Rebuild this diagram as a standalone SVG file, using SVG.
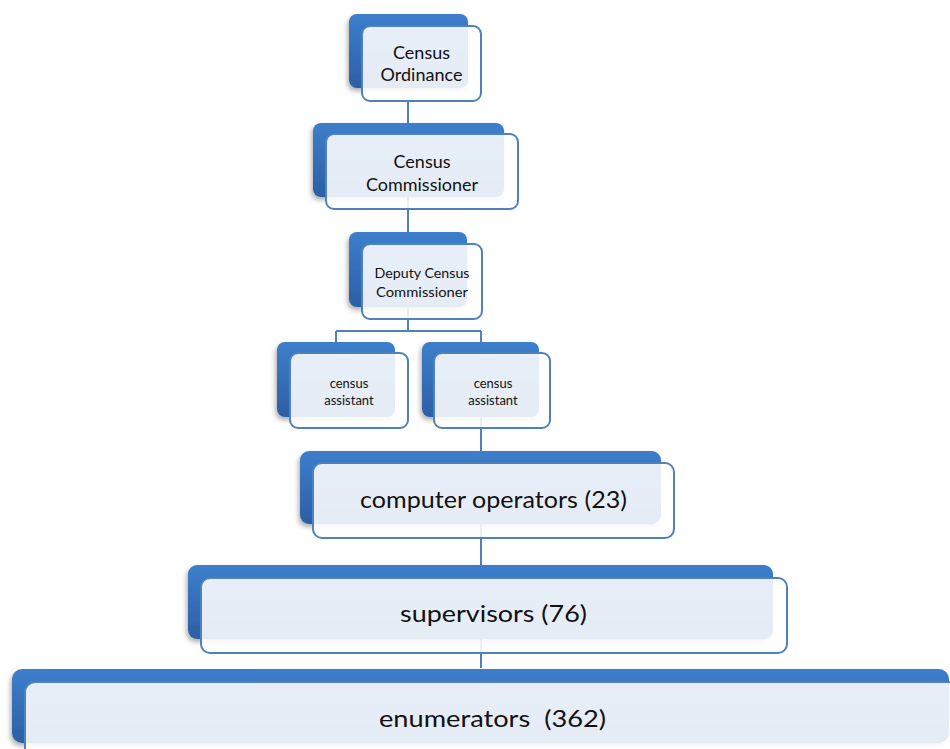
<svg xmlns="http://www.w3.org/2000/svg" width="950" height="749" viewBox="0 0 950 749">
<defs>
<linearGradient id="bg" x1="0" y1="0" x2="0" y2="1">
<stop offset="0" stop-color="#3D7ECC"/>
<stop offset="1" stop-color="#2C5FA5"/>
</linearGradient>
<filter id="sh" x="-10%" y="-20%" width="120%" height="150%">
<feDropShadow dx="-1.5" dy="3" stdDeviation="2.5" flood-color="#000" flood-opacity="0.32"/>
</filter>
</defs>
<style>
.back{fill:url(#bg);filter:url(#sh)}
.front{fill:#fff;fill-opacity:0.88;stroke:#4F81BD;stroke-width:2}
.con{fill:none;stroke:#4F81BD;stroke-width:2}
text{font-family:Lato,"Open Sans","Liberation Sans",sans-serif;fill:#111;text-anchor:middle}
</style>
<g id="connectors">
<path class="con" d="M408 101V331M336 331H481M336 331V342M481 331V668"/>
</g>
<g id="n1">
<rect class="back" x="349" y="14" width="119" height="74" rx="8"/>
<rect class="front" x="362" y="26" width="119" height="75" rx="8"/>
<text x="421.5" y="59" font-size="18">Census</text>
<text x="421.5" y="81" font-size="18">Ordinance</text>
</g>
<g id="n2">
<rect class="back" x="313" y="123" width="191" height="74" rx="8"/>
<rect class="front" x="326" y="134" width="192" height="75" rx="8"/>
<text x="422" y="168" font-size="18">Census</text>
<text x="422" y="191" font-size="18">Commissioner</text>
</g>
<g id="n3">
<rect class="back" x="349" y="232" width="118" height="75" rx="8"/>
<rect class="front" x="362" y="244" width="120" height="75" rx="8"/>
<text x="422" y="278" font-size="13.5" textLength="95" lengthAdjust="spacingAndGlyphs">Deputy Census</text>
<text x="422" y="297" font-size="13.5" textLength="92" lengthAdjust="spacingAndGlyphs">Commissioner</text>
</g>
<g id="n4">
<rect class="back" x="277" y="342" width="118" height="75" rx="8"/>
<rect class="front" x="290" y="353" width="118" height="75" rx="8"/>
<text x="349" y="388" font-size="13">census</text>
<text x="349" y="405" font-size="13">assistant</text>
</g>
<g id="n5">
<rect class="back" x="422" y="342" width="117" height="75" rx="8"/>
<rect class="front" x="434" y="353" width="116" height="75" rx="8"/>
<text x="493" y="388" font-size="13">census</text>
<text x="493" y="405" font-size="13">assistant</text>
</g>
<g id="n6">
<rect class="back" x="300" y="451" width="361" height="73" rx="9"/>
<rect class="front" x="313" y="463" width="361" height="75" rx="9"/>
<text x="493.5" y="508" font-size="23" textLength="267" lengthAdjust="spacingAndGlyphs">computer operators (23)</text>
</g>
<g id="n7">
<rect class="back" x="188" y="565" width="585" height="74" rx="9"/>
<rect class="front" x="201" y="578" width="586" height="75" rx="9"/>
<text x="493.5" y="622" font-size="24" textLength="187" lengthAdjust="spacingAndGlyphs">supervisors (76)</text>
</g>
<g id="n8">
<rect class="back" x="12" y="669" width="937" height="74" rx="10"/>
<rect class="front" x="25" y="682" width="940" height="80" rx="10"/>
<text x="492.5" y="727" font-size="24" textLength="227" lengthAdjust="spacingAndGlyphs" xml:space="preserve">enumerators  (362)</text>
</g>
</svg>
